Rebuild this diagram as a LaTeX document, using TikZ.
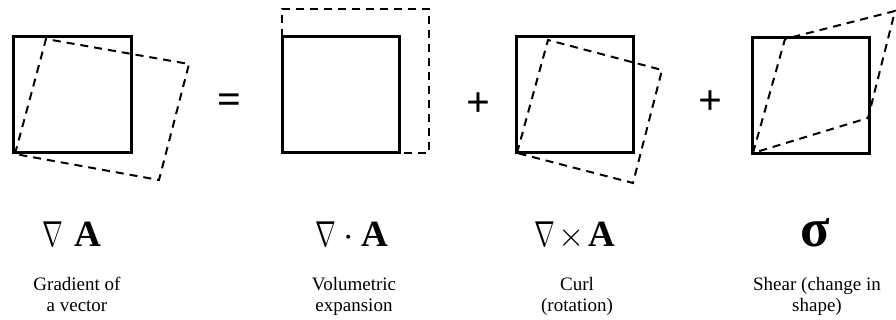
\documentclass[tikz,border=0pt]{standalone}
\usepackage{fontspec}
\setmainfont{Liberation Serif}
\newcommand{\tallnabla}{\scalebox{1}[1.45]{$\nabla$}}
\newcommand{\bigdot}{\scalebox{1.5}{$\cdot$}}
\newcommand{\bigcross}{\scalebox{1.35}{$\times$}}
\begin{document}
\begin{tikzpicture}[x=1pt,y=-1pt,
  solidsq/.style={line width=3pt,line join=miter},
  dashsq/.style={line width=2pt,dash pattern=on 8pt off 6pt,line join=miter},
  opsign/.style={inner sep=0pt,font=\fontsize{42}{46}\selectfont\bfseries},
  formula/.style={anchor=base,inner sep=0pt,font=\fontsize{37}{40}\selectfont},
  caption/.style={anchor=base,inner sep=0pt,align=center,font=\fontsize{19}{21}\selectfont}]
\useasboundingbox (0,0) rectangle (896,320);
% square 1: gradient
\draw[solidsq] (13,37) rectangle (131,153);
\draw[dashsq] (15,154) -- (46,39) -- (189,64) -- (159,180) -- cycle;
% square 2: expansion
\draw[solidsq] (282,37) rectangle (399,153);
\draw[dashsq] (282,37) -- (282,9) -- (429,9) -- (429,153) -- (399,153);
% square 3: curl
\draw[solidsq] (516,37) rectangle (633,153);
\draw[dashsq] (517,153) -- (548,40) -- (662,70) -- (633,183) -- cycle;
% square 4: shear
\draw[solidsq] (752,38) rectangle (869,154);
\draw[dashsq] (753,153) -- (785,39) -- (895,11) -- (868,118) -- cycle;
% operators
\node[opsign] (eq) at (229,103.5) {=};
\node[opsign] (p1) at (478,104.5) {+};
\node[opsign] (p2) at (710,102.5) {+};
% formulas
\node[formula] (f1) at (72,247) {\tallnabla\hspace{0.3em}\textbf{A}};
\node[formula] (f2) at (352,247) {\tallnabla\hspace{0.2em}\bigdot\hspace{0.2em}\textbf{A}};
\node[formula] (f3) at (575,247) {\tallnabla\hspace{0.1em}\bigcross\hspace{0.1em}\textbf{A}};
\node[formula,font=\fontsize{54}{58}\selectfont] (f4) at (815,247) {\textbf{σ}};
% captions
\node[caption] (c1) at (77,311) {Gradient of\\a vector};
\node[caption] (c2) at (354,311) {Volumetric\\expansion};
\node[caption] (c3) at (577,311) {Curl\\(rotation)};
\node[caption] (c4) at (817,311) {Shear (change in\\shape)};
\end{tikzpicture}
\end{document}
